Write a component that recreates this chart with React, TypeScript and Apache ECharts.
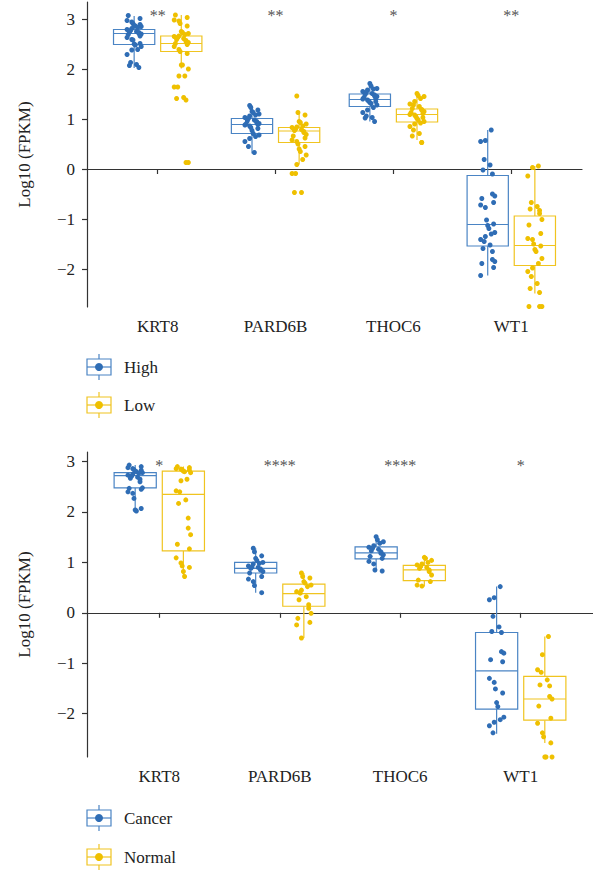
import React, { useEffect, useRef } from "react";
import * as echarts from "echarts";

const GENES = ["KRT8", "PARD6B", "THOC6", "WT1"];
const Y_TICKS = [-2, -1, 0, 1, 2, 3];
const TOP_GROUPS = ["High", "Low"];
const BOTTOM_GROUPS = ["Cancer", "Normal"];
const TOP_SIG = ["**", "**", "*", "**"];
const BOTTOM_SIG = ["*", "****", "****", "*"];

// box stats per gene: [lower whisker, Q1, median, Q3, upper whisker]
const TOP_HIGH_STATS = [
  [2.02, 2.49, 2.71, 2.79, 3.06],
  [0.31, 0.71, 0.89, 1.01, 1.27],
  [0.95, 1.25, 1.39, 1.5, 1.7],
  [-2.13, -1.54, -1.11, -0.13, 0.78],
];
const TOP_LOW_STATS = [
  [2.01, 2.35, 2.51, 2.66, 3.08],
  [0.09, 0.53, 0.76, 0.83, 1.11],
  [0.58, 0.94, 1.09, 1.2, 1.49],
  [-2.49, -1.93, -1.53, -0.94, 0.06],
];
const BOTTOM_CANCER_STATS = [
  [2.03, 2.48, 2.72, 2.78, 2.93],
  [0.4, 0.79, 0.88, 1.0, 1.28],
  [0.82, 1.07, 1.19, 1.31, 1.51],
  [-2.4, -1.91, -1.15, -0.39, 0.52],
];
const BOTTOM_NORMAL_STATS = [
  [0.72, 1.23, 2.35, 2.81, 2.9],
  [-0.5, 0.13, 0.38, 0.57, 0.79],
  [0.52, 0.64, 0.85, 0.94, 1.1],
  [-2.58, -2.13, -1.71, -1.26, -0.47],
];

// individual samples (log10 FPKM)
const TOP_HIGH_KRT8 = [3.07, 3.01, 2.97, 2.94, 2.91, 2.89, 2.87, 2.86, 2.85, 2.83, 2.81, 2.79, 2.77, 2.75, 2.74, 2.73, 2.71, 2.7, 2.69, 2.66, 2.63, 2.59, 2.58, 2.51, 2.5, 2.48, 2.45, 2.39, 2.38, 2.29, 2.13, 2.09, 2.07, 2.03];
const TOP_LOW_KRT8 = [3.08, 3.03, 2.98, 2.96, 2.91, 2.86, 2.75, 2.73, 2.71, 2.69, 2.66, 2.65, 2.63, 2.61, 2.59, 2.57, 2.55, 2.53, 2.51, 2.49, 2.45, 2.39, 2.35, 2.31, 2.08, 2.08, 2.0, 1.86, 1.86, 1.64, 1.64, 1.43, 1.41, 1.38, 0.13, 0.13];
const TOP_HIGH_PARD6B = [1.27, 1.23, 1.18, 1.15, 1.13, 1.1, 1.08, 1.06, 1.03, 1.01, 0.98, 0.96, 0.95, 0.93, 0.91, 0.9, 0.89, 0.88, 0.86, 0.83, 0.81, 0.77, 0.71, 0.68, 0.65, 0.61, 0.55, 0.45, 0.33];
const TOP_LOW_PARD6B = [1.46, 1.13, 1.08, 0.95, 0.93, 0.9, 0.86, 0.84, 0.83, 0.8, 0.79, 0.77, 0.75, 0.73, 0.69, 0.66, 0.62, 0.58, 0.55, 0.5, 0.45, 0.4, 0.35, 0.28, 0.19, 0.09, -0.09, -0.09, -0.47, -0.47];
const TOP_HIGH_THOC6 = [1.71, 1.66, 1.61, 1.6, 1.58, 1.55, 1.53, 1.51, 1.49, 1.48, 1.46, 1.45, 1.43, 1.41, 1.4, 1.38, 1.36, 1.35, 1.33, 1.31, 1.28, 1.23, 1.18, 1.13, 1.06, 1.03, 1.02, 0.95];
const TOP_LOW_THOC6 = [1.51, 1.47, 1.45, 1.41, 1.35, 1.3, 1.28, 1.25, 1.21, 1.19, 1.18, 1.15, 1.13, 1.11, 1.09, 1.08, 1.05, 1.03, 1.01, 0.98, 0.95, 0.92, 0.9, 0.85, 0.78, 0.71, 0.66, 0.53, 0.53];
const TOP_HIGH_WT1 = [0.78, 0.57, 0.55, 0.19, 0.08, -0.02, -0.1, -0.5, -0.54, -0.59, -0.67, -0.72, -0.77, -1.02, -1.1, -1.13, -1.19, -1.27, -1.3, -1.35, -1.41, -1.45, -1.52, -1.59, -1.65, -1.81, -1.85, -1.89, -1.97, -2.13];
const TOP_LOW_WT1 = [0.06, 0.03, -0.14, -0.67, -0.75, -0.8, -0.83, -0.89, -1.01, -1.12, -1.29, -1.39, -1.41, -1.5, -1.54, -1.61, -1.65, -1.79, -1.89, -1.98, -2.05, -2.15, -2.29, -2.39, -2.47, -2.75, -2.75, -2.75];

const BOTTOM_CANCER_KRT8 = [2.93, 2.9, 2.88, 2.86, 2.84, 2.83, 2.81, 2.8, 2.78, 2.77, 2.75, 2.73, 2.71, 2.69, 2.67, 2.65, 2.6, 2.48, 2.47, 2.45, 2.4, 2.37, 2.27, 2.07, 2.04, 2.02];
const BOTTOM_NORMAL_KRT8 = [2.9, 2.88, 2.86, 2.85, 2.84, 2.83, 2.81, 2.8, 2.78, 2.65, 2.62, 2.42, 2.4, 2.24, 2.17, 1.88, 1.68, 1.55, 1.36, 1.27, 1.09, 0.99, 0.93, 0.9, 0.82, 0.72];
const BOTTOM_CANCER_PARD6B = [1.28, 1.21, 1.13, 1.08, 1.04, 1.0, 0.98, 0.97, 0.93, 0.91, 0.9, 0.88, 0.87, 0.85, 0.82, 0.79, 0.72, 0.67, 0.62, 0.54, 0.4];
const BOTTOM_NORMAL_PARD6B = [0.79, 0.72, 0.69, 0.62, 0.59, 0.55, 0.52, 0.45, 0.42, 0.39, 0.32, 0.26, 0.16, 0.09, -0.01, -0.11, -0.19, -0.24, -0.5];
const BOTTOM_CANCER_THOC6 = [1.51, 1.45, 1.41, 1.38, 1.33, 1.3, 1.28, 1.26, 1.23, 1.21, 1.18, 1.15, 1.12, 1.08, 1.02, 0.97, 0.85, 0.83];
const BOTTOM_NORMAL_THOC6 = [1.1, 1.08, 1.04, 1.0, 0.97, 0.95, 0.92, 0.9, 0.88, 0.85, 0.82, 0.75, 0.65, 0.62, 0.55, 0.53];
const BOTTOM_CANCER_WT1 = [0.52, 0.3, 0.26, -0.07, -0.28, -0.37, -0.39, -0.77, -0.8, -0.93, -0.97, -1.3, -1.38, -1.51, -1.59, -1.78, -1.86, -2.07, -2.12, -2.17, -2.24, -2.38];
const BOTTOM_NORMAL_WT1 = [-0.47, -0.83, -1.13, -1.18, -1.33, -1.43, -1.45, -1.66, -1.71, -1.85, -2.09, -2.19, -2.38, -2.46, -2.58, -2.86, -2.86, -2.86];

const TOP_HIGH_POINTS = [TOP_HIGH_KRT8, TOP_HIGH_PARD6B, TOP_HIGH_THOC6, TOP_HIGH_WT1];
const TOP_LOW_POINTS = [TOP_LOW_KRT8, TOP_LOW_PARD6B, TOP_LOW_THOC6, TOP_LOW_WT1];
const BOTTOM_CANCER_POINTS = [BOTTOM_CANCER_KRT8, BOTTOM_CANCER_PARD6B, BOTTOM_CANCER_THOC6, BOTTOM_CANCER_WT1];
const BOTTOM_NORMAL_POINTS = [BOTTOM_NORMAL_KRT8, BOTTOM_NORMAL_PARD6B, BOTTOM_NORMAL_THOC6, BOTTOM_NORMAL_WT1];

// styling / layout constants
const JITTER = [-0.05, 0.02, 0.06, -0.02, 0.04, -0.06, 0.0, 0.05, -0.04, 0.03, -0.01, 0.06, -0.03, 0.01, -0.06, 0.04, -0.02, 0.05];
const DODGE = 0.2;
const HALF_BOX = 0.175;
const BLUE_PT = "#2f6db5";
const BLUE_BOX = "#4a84c4";
const YEL_PT = "#efc000";
const YEL_BOX = "#f0c420";
const STAR_COLOR = "#555555";
const FONT = '"Liberation Serif", "Times New Roman", serif';
const FONT_SIZE = 17;
const AXIS_COLOR = "#333";

const fmtY = (v: number) => (v < 0 ? "\u2212" + Math.abs(v) : String(v));

function boxSeries(idx: number, stats: number[][], offset: number, color: string) {
  return {
    type: "custom",
    xAxisIndex: idx,
    yAxisIndex: idx,
    z: 2,
    clip: false,
    itemStyle: { color },
    data: stats.map((s, i) => [i + 1, ...s]),
    encode: { x: 0, y: [1, 2, 3, 4, 5] },
    renderItem: (params: any, api: any) => {
      const x = api.value(0) + offset;
      const lo = api.coord([x, api.value(1)]);
      const q1 = api.coord([x, api.value(2)]);
      const med = api.coord([x, api.value(3)]);
      const q3 = api.coord([x, api.value(4)]);
      const hi = api.coord([x, api.value(5)]);
      const left = api.coord([x - HALF_BOX, 0])[0];
      const right = api.coord([x + HALF_BOX, 0])[0];
      const cx = lo[0];
      const st = { stroke: color, lineWidth: 1.2, fill: "none" };
      return {
        type: "group",
        children: [
          { type: "line", shape: { x1: cx, y1: lo[1], x2: cx, y2: q1[1] }, style: st },
          { type: "line", shape: { x1: cx, y1: q3[1], x2: cx, y2: hi[1] }, style: st },
          {
            type: "rect",
            shape: { x: left, y: q3[1], width: right - left, height: q1[1] - q3[1] },
            style: { stroke: color, lineWidth: 1.2, fill: "#fff" },
          },
          { type: "line", shape: { x1: left, y1: med[1], x2: right, y2: med[1] }, style: st },
        ],
      };
    },
  };
}

function pointSeries(idx: number, groups: number[][], offset: number, color: string) {
  const data: number[][] = [];
  groups.forEach((arr, g) => {
    arr.forEach((v, j) => {
      data.push([g + 1 + offset + JITTER[(j * 7 + g * 3) % JITTER.length], v]);
    });
  });
  return {
    type: "scatter",
    xAxisIndex: idx,
    yAxisIndex: idx,
    z: 3,
    clip: false,
    symbol: "circle",
    symbolSize: 5,
    itemStyle: { color, opacity: 1 },
    data,
  };
}

function sigSeries(idx: number, labels: string[], yVal: number) {
  return {
    type: "custom",
    xAxisIndex: idx,
    yAxisIndex: idx,
    z: 4,
    clip: false,
    itemStyle: { color: STAR_COLOR },
    data: labels.map((l, i) => [i + 1, yVal]),
    encode: { x: 0, y: 1 },
    renderItem: (params: any, api: any) => {
      const p = api.coord([api.value(0), api.value(1)]);
      return {
        type: "text",
        x: p[0],
        y: p[1],
        style: {
          text: labels[params.dataIndex],
          fill: STAR_COLOR,
          fontFamily: FONT,
          fontSize: 16,
          align: "center",
          verticalAlign: "middle",
        },
      };
    },
  };
}

function xAxis(idx: number) {
  return {
    type: "value",
    gridIndex: idx,
    min: 0.4,
    max: 4.6,
    axisLine: { show: true, lineStyle: { color: AXIS_COLOR, width: 1.2 } },
    axisTick: { show: true, customValues: [1, 2, 3, 4], length: 5, lineStyle: { color: AXIS_COLOR, width: 1.2 } },
    axisLabel: {
      customValues: [1, 2, 3, 4],
      formatter: (v: number) => GENES[Math.round(v) - 1],
      fontFamily: FONT,
      fontSize: FONT_SIZE,
      color: "#222",
      margin: 11,
    },
    splitLine: { show: false },
  };
}

function yAxis(idx: number, min: number, max: number) {
  return {
    type: "value",
    gridIndex: idx,
    min,
    max,
    name: "Log10 (FPKM)",
    nameLocation: "middle",
    nameGap: 54,
    nameRotate: 90,
    nameTextStyle: { fontFamily: FONT, fontSize: FONT_SIZE, color: "#222" },
    axisLine: { show: true, lineStyle: { color: AXIS_COLOR, width: 1.2 } },
    axisTick: { show: true, customValues: Y_TICKS, length: 5, lineStyle: { color: AXIS_COLOR, width: 1.2 } },
    axisLabel: {
      customValues: Y_TICKS,
      formatter: fmtY,
      fontFamily: FONT,
      fontSize: FONT_SIZE,
      color: "#222",
      margin: 12,
    },
    splitLine: { show: false },
  };
}

function legendItem(x: number, y: number, label: string, color: string, ptColor: string) {
  return {
    type: "group",
    x,
    y,
    children: [
      { type: "line", shape: { x1: 12, y1: -5, x2: 12, y2: 21 }, style: { stroke: color, lineWidth: 1.2 } },
      { type: "rect", shape: { x: 0, y: 0, width: 24, height: 16 }, style: { stroke: color, lineWidth: 1.2, fill: "#fff" } },
      { type: "line", shape: { x1: 0, y1: 8, x2: 24, y2: 8 }, style: { stroke: color, lineWidth: 1.2 } },
      { type: "circle", shape: { cx: 12, cy: 8, r: 4 }, style: { fill: ptColor } },
      {
        type: "text",
        x: 37,
        y: 8,
        style: { text: label, fontFamily: FONT, fontSize: FONT_SIZE, fill: "#222", verticalAlign: "middle", align: "left" },
      },
    ],
  };
}

export default function App() {
  const ref = useRef<HTMLDivElement>(null);
  useEffect(() => {
    if (!ref.current) return;
    const chart = echarts.init(ref.current, null, { renderer: "svg" });
    chart.setOption({
      animation: false,
      backgroundColor: "#fff",
      grid: [
        { left: 87, top: 2, width: 495, height: 305 },
        { left: 87, top: 452, width: 506, height: 305 },
      ],
      xAxis: [xAxis(0), xAxis(1)],
      yAxis: [yAxis(0, -2.76, 3.34), yAxis(1, -2.86, 3.19)],
      series: [
        boxSeries(0, TOP_HIGH_STATS, -DODGE, BLUE_BOX),
        boxSeries(0, TOP_LOW_STATS, DODGE, YEL_BOX),
        pointSeries(0, TOP_HIGH_POINTS, -DODGE, BLUE_PT),
        pointSeries(0, TOP_LOW_POINTS, DODGE, YEL_PT),
        sigSeries(0, TOP_SIG, 3.08),
        boxSeries(1, BOTTOM_CANCER_STATS, -DODGE, BLUE_BOX),
        boxSeries(1, BOTTOM_NORMAL_STATS, DODGE, YEL_BOX),
        pointSeries(1, BOTTOM_CANCER_POINTS, -DODGE, BLUE_PT),
        pointSeries(1, BOTTOM_NORMAL_POINTS, DODGE, YEL_PT),
        sigSeries(1, BOTTOM_SIG, 2.93),
      ],
      graphic: [
        legendItem(87, 359, TOP_GROUPS[0], BLUE_BOX, BLUE_PT),
        legendItem(87, 397, TOP_GROUPS[1], YEL_BOX, YEL_PT),
        legendItem(87, 810, BOTTOM_GROUPS[0], BLUE_BOX, BLUE_PT),
        legendItem(87, 849, BOTTOM_GROUPS[1], YEL_BOX, YEL_PT),
      ],
    });
    return () => chart.dispose();
  }, []);
  return (
    <div
      ref={ref}
      style={{ position: "absolute", left: 0, top: 0, width: 593, height: 876 }}
    />
  );
}
